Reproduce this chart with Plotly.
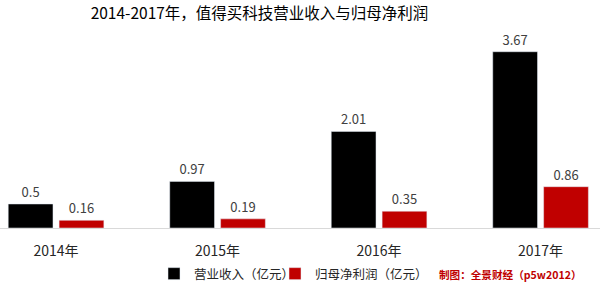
import plotly.graph_objects as go

years = ["2014年", "2015年", "2016年", "2017年"]
revenue = [0.5, 0.97, 2.01, 3.67]
net_profit = [0.16, 0.19, 0.35, 0.86]
revenue_labels = ["0.5", "0.97", "2.01", "3.67"]
profit_labels = ["0.16", "0.19", "0.35", "0.86"]

FONT = "Noto Sans CJK SC"

fig = go.Figure()
fig.add_trace(go.Bar(
    x=years, y=revenue, name="营业收入（亿元）", legend="legend",
    marker=dict(color="#000000"),
    text=revenue_labels, textposition="outside", cliponaxis=False,
    textfont=dict(size=13, color="#404040", family=FONT),
))
fig.add_trace(go.Bar(
    x=years, y=net_profit, name="归母净利润（亿元）", legend="legend2",
    marker=dict(color="#c00000"),
    text=profit_labels, textposition="outside", cliponaxis=False,
    textfont=dict(size=13, color="#404040", family=FONT),
))

leg_y = -(278 - 231) / 191
leg_common = dict(
    orientation="h", xanchor="left", y=leg_y, yanchor="middle",
    font=dict(size=12.5, color="#262626", family=FONT),
    bgcolor="rgba(0,0,0,0)", itemclick=False,
)

fig.update_layout(
    width=600, height=289,
    margin=dict(l=0, r=0, t=40, b=58),
    paper_bgcolor="white", plot_bgcolor="white",
    barmode="group", bargap=0.37, bargroupgap=0.12,
    font=dict(family=FONT, color="#404040"),
    title=dict(
        text="2014-2017年，值得买科技营业收入与归母净利润",
        x=259.5 / 600, xanchor="center", xref="paper",
        y=1 - 14 / 289, yanchor="middle",
        font=dict(size=15.5, color="#000000", family=FONT),
    ),
    xaxis=dict(
        range=[-0.347, 3.368],
        showline=True, linecolor="#d9d9d9", linewidth=1,
        ticks="", showgrid=False, ticklabelstandoff=10,
        tickfont=dict(size=14, color="#262626", family=FONT),
    ),
    yaxis=dict(
        range=[0, 3.914], visible=False, showgrid=False, zeroline=False,
    ),
    showlegend=True,
    legend=dict(x=(173 - 19) / 600, **leg_common),
    legend2=dict(x=(294 - 19) / 600, **leg_common),
    annotations=[dict(
        text="<b>制图：全景财经（p5w2012）</b>",
        xref="paper", yref="paper", x=584 / 600, xanchor="right",
        y=leg_y, yanchor="middle", showarrow=False,
        font=dict(size=10.6, color="#c00000", family=FONT),
    )],
)

fig.write_html("out.html")
